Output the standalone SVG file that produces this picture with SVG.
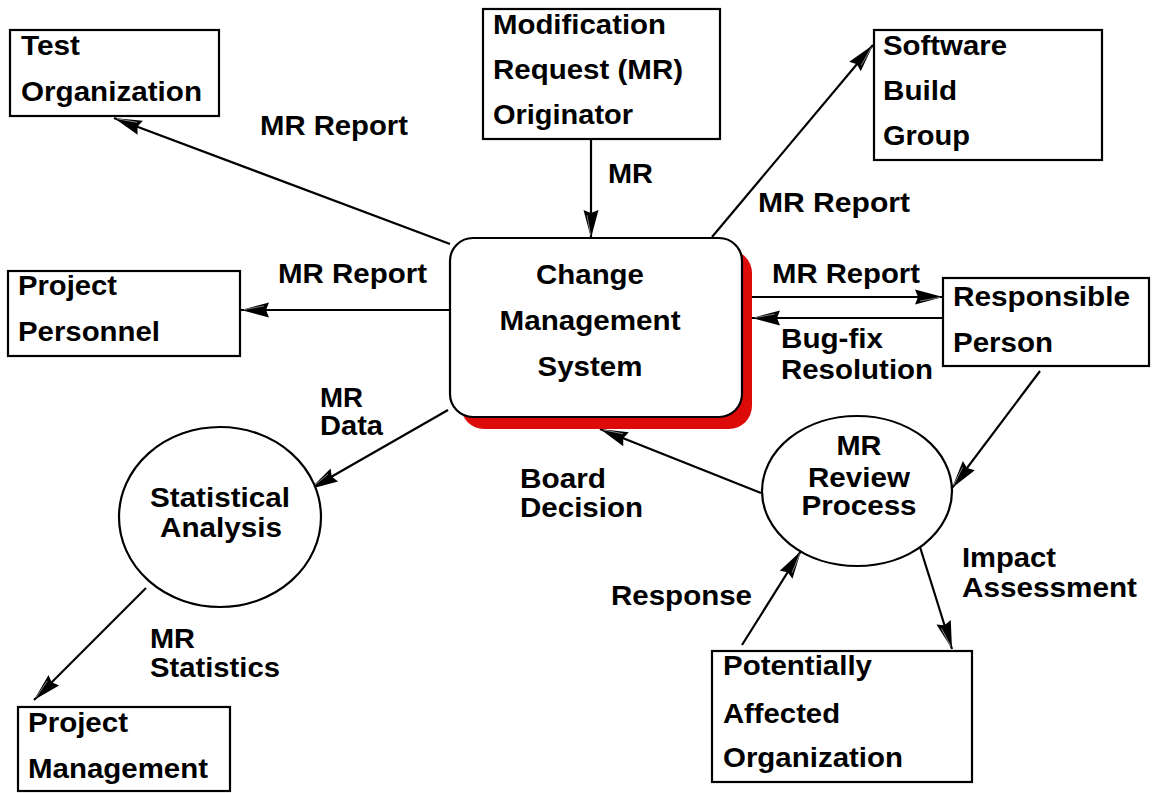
<svg xmlns="http://www.w3.org/2000/svg" width="1152" height="793" viewBox="0 0 1152 793">
<style>
.t{font-family:"Liberation Sans",Arial,Helvetica,sans-serif;font-weight:bold;font-size:28px;fill:#000}
.c{text-anchor:middle}
.box{fill:#fff;stroke:#000;stroke-width:2.2}
.ln{fill:none;stroke:#000;stroke-width:2.2;marker-end:url(#ah)}
</style>
<defs>
<marker id="ah" markerUnits="userSpaceOnUse" markerWidth="30" markerHeight="18" viewBox="0 0 30 18" refX="29" refY="9" orient="auto">
<path d="M1,1.5 L29,9 L1,16.5 L4,9 z" fill="#000"/>
<path d="M6,13 L26,9.4" stroke="#999" stroke-width="0.8"/>
</marker>
</defs>
<rect width="1152" height="793" fill="#fff"/>

<g id="connectors">
<line class="ln" x1="450" y1="244" x2="114" y2="118"/>
<line class="ln" x1="450" y1="310" x2="241" y2="310"/>
<line class="ln" x1="591" y1="139" x2="591" y2="238"/>
<line class="ln" x1="712" y1="237" x2="873" y2="45"/>
<line class="ln" x1="752" y1="297" x2="943" y2="297"/>
<line class="ln" x1="943" y1="318" x2="752" y2="318"/>
<line class="ln" x1="448" y1="410" x2="310" y2="489"/>
<line class="ln" x1="761" y1="493" x2="600" y2="429"/>
<line class="ln" x1="1040" y1="371" x2="952" y2="488"/>
<line class="ln" x1="920" y1="547" x2="952" y2="649"/>
<line class="ln" x1="742" y1="645" x2="801" y2="551"/>
<line class="ln" x1="146" y1="588" x2="34" y2="700"/>
<text class="t" x="260" y="135" textLength="148" lengthAdjust="spacingAndGlyphs">MR Report</text>
<text class="t" x="278" y="283" textLength="149" lengthAdjust="spacingAndGlyphs">MR Report</text>
<text class="t" x="608" y="183" textLength="45" lengthAdjust="spacingAndGlyphs">MR</text>
<text class="t" x="758" y="212" textLength="152" lengthAdjust="spacingAndGlyphs">MR Report</text>
<text class="t" x="772" y="283" textLength="148" lengthAdjust="spacingAndGlyphs">MR Report</text>
<text class="t" x="781" y="348" textLength="102" lengthAdjust="spacingAndGlyphs">Bug-fix</text>
<text class="t" x="781" y="379" textLength="152" lengthAdjust="spacingAndGlyphs">Resolution</text>
<text class="t" x="320" y="407" textLength="43" lengthAdjust="spacingAndGlyphs">MR</text>
<text class="t" x="320" y="435" textLength="63" lengthAdjust="spacingAndGlyphs">Data</text>
<text class="t" x="520" y="488" textLength="86" lengthAdjust="spacingAndGlyphs">Board</text>
<text class="t" x="520" y="517" textLength="123" lengthAdjust="spacingAndGlyphs">Decision</text>
<text class="t" x="962" y="567" textLength="94" lengthAdjust="spacingAndGlyphs">Impact</text>
<text class="t" x="962" y="597" textLength="175" lengthAdjust="spacingAndGlyphs">Assessment</text>
<text class="t" x="611" y="605" textLength="141" lengthAdjust="spacingAndGlyphs">Response</text>
<text class="t" x="150" y="648" textLength="45" lengthAdjust="spacingAndGlyphs">MR</text>
<text class="t" x="150" y="677" textLength="130" lengthAdjust="spacingAndGlyphs">Statistics</text>
</g>

<g id="test-organization">
<rect class="box" x="10" y="30" width="209" height="86"/>
<text class="t" x="21" y="55" textLength="59" lengthAdjust="spacingAndGlyphs">Test</text>
<text class="t" x="21" y="101" textLength="181" lengthAdjust="spacingAndGlyphs">Organization</text>
</g>

<g id="mr-originator">
<rect class="box" x="483" y="9" width="237" height="130"/>
<text class="t" x="493" y="34" textLength="173" lengthAdjust="spacingAndGlyphs">Modification</text>
<text class="t" x="493" y="79" textLength="190" lengthAdjust="spacingAndGlyphs">Request (MR)</text>
<text class="t" x="493" y="124" textLength="140" lengthAdjust="spacingAndGlyphs">Originator</text>
</g>

<g id="software-build-group">
<rect class="box" x="874" y="30" width="228" height="130"/>
<text class="t" x="883" y="55" textLength="124" lengthAdjust="spacingAndGlyphs">Software</text>
<text class="t" x="883" y="100" textLength="74" lengthAdjust="spacingAndGlyphs">Build</text>
<text class="t" x="883" y="145" textLength="87" lengthAdjust="spacingAndGlyphs">Group</text>
</g>

<g id="project-personnel">
<rect class="box" x="8" y="271" width="232" height="85"/>
<text class="t" x="18" y="295" textLength="99" lengthAdjust="spacingAndGlyphs">Project</text>
<text class="t" x="18" y="341" textLength="142" lengthAdjust="spacingAndGlyphs">Personnel</text>
</g>

<g id="change-management-system">
<rect x="461" y="250" width="291" height="179" rx="23" fill="#dd0a0a"/>
<rect class="box" x="450" y="238" width="292" height="179" rx="23"/>
<text class="t c" x="590" y="284" textLength="108" lengthAdjust="spacingAndGlyphs">Change</text>
<text class="t c" x="590" y="330" textLength="181" lengthAdjust="spacingAndGlyphs">Management</text>
<text class="t c" x="590" y="376" textLength="105" lengthAdjust="spacingAndGlyphs">System</text>
</g>

<g id="responsible-person">
<rect class="box" x="943" y="278" width="206" height="88"/>
<text class="t" x="953" y="306" textLength="177" lengthAdjust="spacingAndGlyphs">Responsible</text>
<text class="t" x="953" y="352" textLength="100" lengthAdjust="spacingAndGlyphs">Person</text>
</g>

<g id="statistical-analysis">
<ellipse class="box" cx="220" cy="517" rx="101" ry="90"/>
<text class="t c" x="220" y="507" textLength="140" lengthAdjust="spacingAndGlyphs">Statistical</text>
<text class="t c" x="221" y="537" textLength="122" lengthAdjust="spacingAndGlyphs">Analysis</text>
</g>

<g id="mr-review-process">
<ellipse class="box" cx="857" cy="491" rx="95" ry="75"/>
<text class="t c" x="859" y="455" textLength="45" lengthAdjust="spacingAndGlyphs">MR</text>
<text class="t c" x="859" y="487" textLength="102" lengthAdjust="spacingAndGlyphs">Review</text>
<text class="t c" x="859" y="515" textLength="115" lengthAdjust="spacingAndGlyphs">Process</text>
</g>

<g id="potentially-affected-organization">
<rect class="box" x="712" y="651" width="260" height="131"/>
<text class="t" x="723" y="675" textLength="149" lengthAdjust="spacingAndGlyphs">Potentially</text>
<text class="t" x="723" y="723" textLength="117" lengthAdjust="spacingAndGlyphs">Affected</text>
<text class="t" x="723" y="767" textLength="180" lengthAdjust="spacingAndGlyphs">Organization</text>
</g>

<g id="project-management">
<rect class="box" x="18" y="707" width="212" height="84"/>
<text class="t" x="28" y="732" textLength="100" lengthAdjust="spacingAndGlyphs">Project</text>
<text class="t" x="28" y="778" textLength="180" lengthAdjust="spacingAndGlyphs">Management</text>
</g>
</svg>
